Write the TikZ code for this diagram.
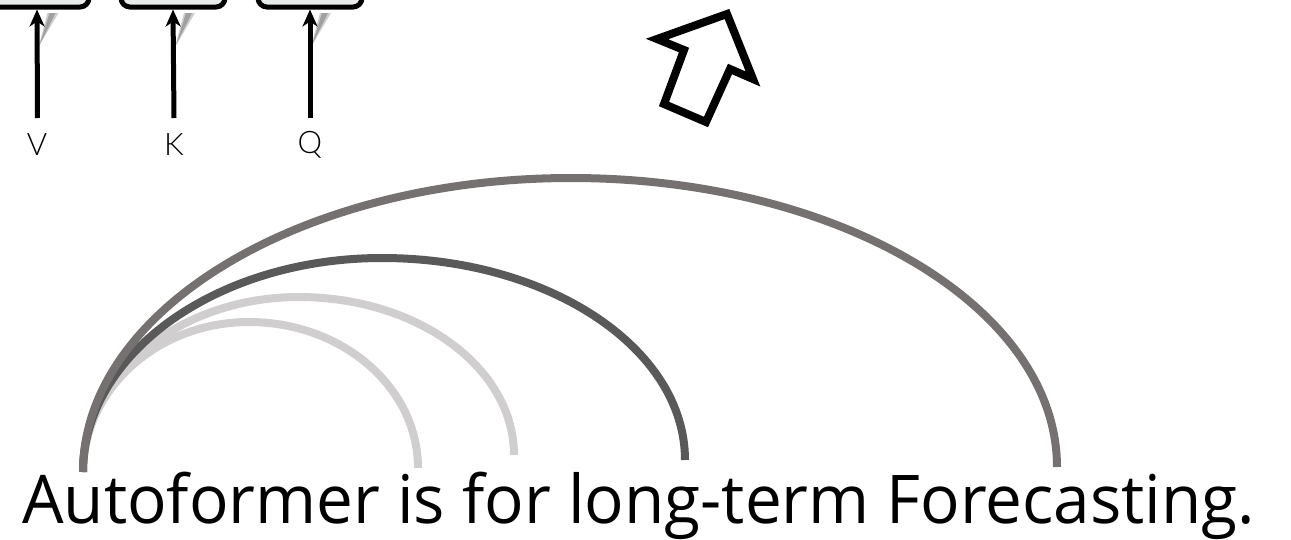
\documentclass[tikz,border=0pt]{standalone}
\usepackage{fontspec}
\usepackage{graphicx}
\setmainfont{Open Sans}
\IfFontExistsTF{Lato Light}{\newfontfamily\lblfont{Lato Light}}{\newfontfamily\lblfont{TeX Gyre Heros}}
\usetikzlibrary{arrows.meta}
\definecolor{boxfill}{HTML}{E7ECEB}
\definecolor{arcA}{HTML}{767171}
\definecolor{arcB}{HTML}{595959}
\definecolor{arcC}{HTML}{D0CECE}
\begin{document}
\begin{tikzpicture}[x=1pt,y=-1pt,
  qkvbox/.style={draw=black, line width=5pt, fill=boxfill, rounded corners=9pt, minimum width=104pt, minimum height=90pt, anchor=south, inner sep=0pt},
  inarrow/.style={line width=5pt, -{Stealth[length=17pt,width=15pt,inset=5pt]}},
  shadowwedge/.style={fill=black!55, draw=none},
  lbltext/.style={font=\lblfont\fontsize{31}{37}\selectfont, inner sep=0pt},
  arcline/.style={line width=8pt},
  hollow/.style={draw=black, line width=8pt, fill=white, line join=miter}
]
\useasboundingbox (0,0) rectangle (1291,539);
\clip (0,0) rectangle (1291,539);

% Q K V boxes (cut by the top edge)
\node[qkvbox] (bv) at (37,9.5) {};
\node[qkvbox] (bk) at (173,9.5) {};
\node[qkvbox] (bq) at (310,9.5) {};

% labels
\node[lbltext] (lv) at (37,145) {V};
\node[lbltext] (lk) at (174,145) {K};
\node[lbltext] (lq) at (310,145) {Q};

% arrow tails
\coordinate (tv) at (37.5,118);
\coordinate (tk) at (174,118);
\coordinate (tq) at (310,118);

% shadows of arrowheads
\foreach \cx in {37.5,174,310}{
  \fill[shadowwedge, opacity=0.35] (\cx+1,47) -- (\cx+10,13) -- (\cx+21,13) -- cycle;
  \fill[shadowwedge, opacity=0.5] (\cx+2,45) -- (\cx+12,13) -- (\cx+18,13) -- cycle;
}

\draw[inarrow] (tv) -- (bv.south);
\draw[inarrow] (tk) -- (bk.south);
\draw[inarrow] (tq) -- (bq.south);

% hollow block arrow
\draw[hollow] (727,14) -- (753,79) -- (730,69) -- (706,122) -- (664,104) -- (684,50) -- (657,39) -- cycle;

% arcs
\coordinate (s) at (83,472);
\coordinate (e1) at (1057,467);
\coordinate (e2) at (685,460);
\coordinate (e3) at (514,455);
\coordinate (e4) at (418,468);

\draw[arcline, arcC] (s) .. controls (83,389.2) and (157.4,322) .. (249,322)
   .. controls (342.3,322) and (418,387.4) .. (e4);
\draw[arcline, arcC] (s) .. controls (83,375.4) and (179.8,297) .. (299,297)
   .. controls (417.7,297) and (514,367.8) .. (e3);
\draw[arcline, arcB] (s) .. controls (83,353.9) and (216.9,258) .. (382,258)
   .. controls (549.3,258) and (685,348.5) .. (e2);
\draw[arcline, arcA] (s) .. controls (83,309.7) and (301.6,178) .. (571,178)
   .. controls (839.8,178) and (1057,307.5) .. (e1);

% title
\node[anchor=base west, inner sep=0pt] (title) at (22,523)
  {\resizebox{1233pt}{\height}{\fontsize{67.2}{80}\selectfont Autoformer is for long-term Forecasting.}};
\end{tikzpicture}
\end{document}
